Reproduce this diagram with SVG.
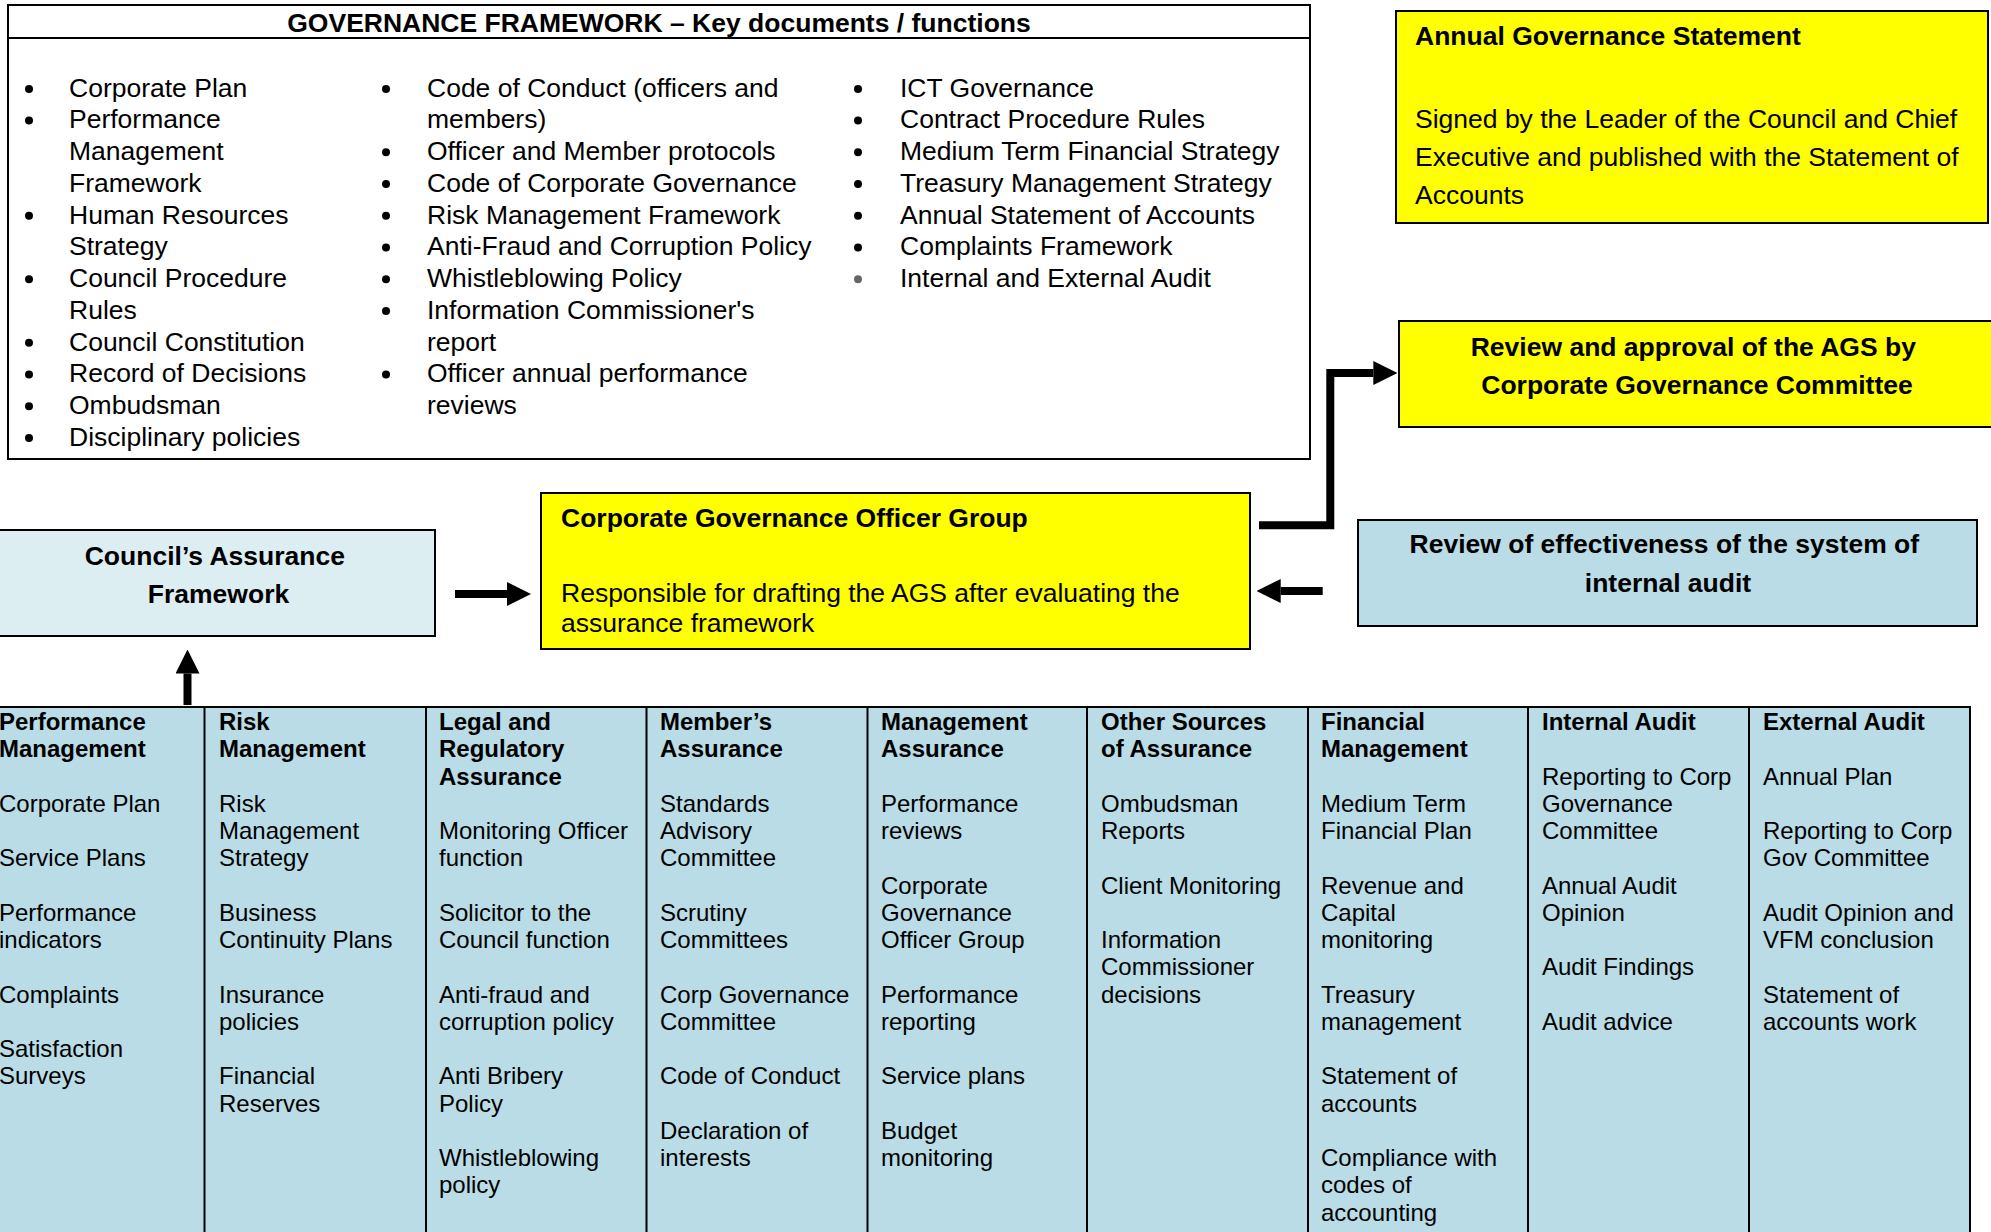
<svg xmlns="http://www.w3.org/2000/svg" width="1991" height="1232" viewBox="0 0 1991 1232">
<style>
text{font-family:"Liberation Sans",Arial,sans-serif;fill:#000}
.r26{font-size:26.5px}
.b26{font-size:26.5px;font-weight:bold}
.r24{font-size:24px}
.b24{font-size:24px;font-weight:bold}
.c{text-anchor:middle}
.box{stroke:#000;stroke-width:2}
.yel{fill:#FFFF00}
.lb{fill:#B9DCE6}
.llb{fill:#DDEEF3}
.sep{stroke:#000;stroke-width:2}
.arrow{stroke:#000;stroke-width:8;fill:none;marker-end:url(#head)}
.dot{fill:#000}
</style>
<defs>
<marker id="head" markerUnits="userSpaceOnUse" markerWidth="24" markerHeight="24" viewBox="0 0 24 24" refX="0" refY="12" orient="auto">
<path d="M0,0 L24,12 L0,24 z" fill="#000"/>
</marker>
</defs>

<g id="governance-framework">
<rect class="box" x="8" y="5" width="1302" height="454" fill="#fff"/>
<line class="sep" x1="8" y1="38" x2="1310" y2="38"/>
<text class="b26 c" x="659" y="32">GOVERNANCE FRAMEWORK – Key documents / functions</text>
<g>
<circle class="dot" cx="29" cy="89" r="4"/>
<circle class="dot" cx="29" cy="120.5" r="4"/>
<circle class="dot" cx="29" cy="215.7" r="4"/>
<circle class="dot" cx="29" cy="279.2" r="4"/>
<circle class="dot" cx="29" cy="342.7" r="4"/>
<circle class="dot" cx="29" cy="374.5" r="4"/>
<circle class="dot" cx="29" cy="406.2" r="4"/>
<circle class="dot" cx="29" cy="438" r="4"/>
<text class="r26">
<tspan x="69" y="96.7">Corporate Plan</tspan>
<tspan x="69" y="128.45">Performance</tspan>
<tspan x="69" y="160.2">Management</tspan>
<tspan x="69" y="191.95">Framework</tspan>
<tspan x="69" y="223.7">Human Resources</tspan>
<tspan x="69" y="255.45">Strategy</tspan>
<tspan x="69" y="287.2">Council Procedure</tspan>
<tspan x="69" y="318.95">Rules</tspan>
<tspan x="69" y="350.7">Council Constitution</tspan>
<tspan x="69" y="382.45">Record of Decisions</tspan>
<tspan x="69" y="414.2">Ombudsman</tspan>
<tspan x="69" y="445.95">Disciplinary policies</tspan>
</text>
</g>
<g>
<circle class="dot" cx="386" cy="89" r="4"/>
<circle class="dot" cx="386" cy="152.2" r="4"/>
<circle class="dot" cx="386" cy="184" r="4"/>
<circle class="dot" cx="386" cy="215.7" r="4"/>
<circle class="dot" cx="386" cy="247.5" r="4"/>
<circle class="dot" cx="386" cy="279.2" r="4"/>
<circle class="dot" cx="386" cy="311" r="4"/>
<circle class="dot" cx="386" cy="374.5" r="4"/>
<text class="r26">
<tspan x="427" y="96.7">Code of Conduct (officers and</tspan>
<tspan x="427" y="128.45">members)</tspan>
<tspan x="427" y="160.2">Officer and Member protocols</tspan>
<tspan x="427" y="191.95">Code of Corporate Governance</tspan>
<tspan x="427" y="223.7">Risk Management Framework</tspan>
<tspan x="427" y="255.45">Anti-Fraud and Corruption Policy</tspan>
<tspan x="427" y="287.2">Whistleblowing Policy</tspan>
<tspan x="427" y="318.95">Information Commissioner's</tspan>
<tspan x="427" y="350.7">report</tspan>
<tspan x="427" y="382.45">Officer annual performance</tspan>
<tspan x="427" y="414.2">reviews</tspan>
</text>
</g>
<g>
<circle class="dot" cx="858" cy="89" r="4"/>
<circle class="dot" cx="858" cy="120.5" r="4"/>
<circle class="dot" cx="858" cy="152.2" r="4"/>
<circle class="dot" cx="858" cy="184" r="4"/>
<circle class="dot" cx="858" cy="215.7" r="4"/>
<circle class="dot" cx="858" cy="247.5" r="4"/>
<circle cx="858" cy="279.2" r="4" fill="#666"/>
<text class="r26">
<tspan x="900" y="96.7">ICT Governance</tspan>
<tspan x="900" y="128.45">Contract Procedure Rules</tspan>
<tspan x="900" y="160.2">Medium Term Financial Strategy</tspan>
<tspan x="900" y="191.95">Treasury Management Strategy</tspan>
<tspan x="900" y="223.7">Annual Statement of Accounts</tspan>
<tspan x="900" y="255.45">Complaints Framework</tspan>
<tspan x="900" y="287.2">Internal and External Audit</tspan>
</text>
</g>
</g>

<g id="annual-governance-statement">
<rect class="box yel" x="1396" y="11" width="592" height="212"/>
<text class="b26" x="1415" y="45">Annual Governance Statement</text>
<text class="r26">
<tspan x="1415" y="128">Signed by the Leader of the Council and Chief</tspan>
<tspan x="1415" y="166">Executive and published with the Statement of</tspan>
<tspan x="1415" y="203.5">Accounts</tspan>
</text>
</g>

<g id="review-approval-ags">
<rect class="box yel" x="1399" y="321" width="600" height="106"/>
<text class="b26 c">
<tspan x="1697" y="356">Review and approval of the AGS by</tspan>
<tspan x="1697" y="394">Corporate Governance Committee</tspan>
</text>
</g>

<g id="councils-assurance-framework">
<rect class="box llb" x="-2" y="530" width="437" height="106"/>
<text class="b26 c">
<tspan x="218.5" y="565">Council’s Assurance</tspan>
<tspan x="218.5" y="603">Framework</tspan>
</text>
</g>

<g id="corporate-governance-officer-group">
<rect class="box yel" x="541" y="493" width="709" height="156"/>
<text class="b26" x="561" y="526.5">Corporate Governance Officer Group</text>
<text class="r26">
<tspan x="561" y="602">Responsible for drafting the AGS after evaluating the</tspan>
<tspan x="561" y="632">assurance framework</tspan>
</text>
</g>

<g id="review-effectiveness-internal-audit">
<rect class="box lb" x="1358" y="520" width="619" height="106"/>
<text class="b26 c">
<tspan x="1668" y="553">Review of effectiveness of the system of</tspan>
<tspan x="1668" y="592">internal audit</tspan>
</text>
</g>

<g id="assurance-sources">
<rect class="box lb" x="-16" y="707" width="1986" height="560"/>
<line class="sep" x1="204.5" y1="707" x2="204.5" y2="1232"/>
<line class="sep" x1="426" y1="707" x2="426" y2="1232"/>
<line class="sep" x1="646.5" y1="707" x2="646.5" y2="1232"/>
<line class="sep" x1="867.5" y1="707" x2="867.5" y2="1232"/>
<line class="sep" x1="1087" y1="707" x2="1087" y2="1232"/>
<line class="sep" x1="1308" y1="707" x2="1308" y2="1232"/>
<line class="sep" x1="1528" y1="707" x2="1528" y2="1232"/>
<line class="sep" x1="1749" y1="707" x2="1749" y2="1232"/>

<g id="col-performance-management">
<text class="b24"><tspan x="-1" y="730">Performance</tspan><tspan x="-1" y="757.25">Management</tspan></text>
<text class="r24">
<tspan x="-1" y="811.75">Corporate Plan</tspan>
<tspan x="-1" y="866.25">Service Plans</tspan>
<tspan x="-1" y="920.75">Performance</tspan>
<tspan x="-1" y="948">indicators</tspan>
<tspan x="-1" y="1002.5">Complaints</tspan>
<tspan x="-1" y="1057">Satisfaction</tspan>
<tspan x="-1" y="1084.25">Surveys</tspan>
</text>
</g>
<g id="col-risk-management">
<text class="b24"><tspan x="219" y="730">Risk</tspan><tspan x="219" y="757.25">Management</tspan></text>
<text class="r24">
<tspan x="219" y="811.75">Risk</tspan>
<tspan x="219" y="839">Management</tspan>
<tspan x="219" y="866.25">Strategy</tspan>
<tspan x="219" y="920.75">Business</tspan>
<tspan x="219" y="948">Continuity Plans</tspan>
<tspan x="219" y="1002.5">Insurance</tspan>
<tspan x="219" y="1029.75">policies</tspan>
<tspan x="219" y="1084.25">Financial</tspan>
<tspan x="219" y="1111.5">Reserves</tspan>
</text>
</g>
<g id="col-legal-regulatory">
<text class="b24"><tspan x="439" y="730">Legal and</tspan><tspan x="439" y="757.25">Regulatory</tspan><tspan x="439" y="784.5">Assurance</tspan></text>
<text class="r24">
<tspan x="439" y="839">Monitoring Officer</tspan>
<tspan x="439" y="866.25">function</tspan>
<tspan x="439" y="920.75">Solicitor to the</tspan>
<tspan x="439" y="948">Council function</tspan>
<tspan x="439" y="1002.5">Anti-fraud and</tspan>
<tspan x="439" y="1029.75">corruption policy</tspan>
<tspan x="439" y="1084.25">Anti Bribery</tspan>
<tspan x="439" y="1111.5">Policy</tspan>
<tspan x="439" y="1166">Whistleblowing</tspan>
<tspan x="439" y="1193.25">policy</tspan>
</text>
</g>
<g id="col-members-assurance">
<text class="b24"><tspan x="660" y="730">Member’s</tspan><tspan x="660" y="757.25">Assurance</tspan></text>
<text class="r24">
<tspan x="660" y="811.75">Standards</tspan>
<tspan x="660" y="839">Advisory</tspan>
<tspan x="660" y="866.25">Committee</tspan>
<tspan x="660" y="920.75">Scrutiny</tspan>
<tspan x="660" y="948">Committees</tspan>
<tspan x="660" y="1002.5">Corp Governance</tspan>
<tspan x="660" y="1029.75">Committee</tspan>
<tspan x="660" y="1084.25">Code of Conduct</tspan>
<tspan x="660" y="1138.75">Declaration of</tspan>
<tspan x="660" y="1166">interests</tspan>
</text>
</g>
<g id="col-management-assurance">
<text class="b24"><tspan x="881" y="730">Management</tspan><tspan x="881" y="757.25">Assurance</tspan></text>
<text class="r24">
<tspan x="881" y="811.75">Performance</tspan>
<tspan x="881" y="839">reviews</tspan>
<tspan x="881" y="893.5">Corporate</tspan>
<tspan x="881" y="920.75">Governance</tspan>
<tspan x="881" y="948">Officer Group</tspan>
<tspan x="881" y="1002.5">Performance</tspan>
<tspan x="881" y="1029.75">reporting</tspan>
<tspan x="881" y="1084.25">Service plans</tspan>
<tspan x="881" y="1138.75">Budget</tspan>
<tspan x="881" y="1166">monitoring</tspan>
</text>
</g>
<g id="col-other-sources">
<text class="b24"><tspan x="1101" y="730">Other Sources</tspan><tspan x="1101" y="757.25">of Assurance</tspan></text>
<text class="r24">
<tspan x="1101" y="811.75">Ombudsman</tspan>
<tspan x="1101" y="839">Reports</tspan>
<tspan x="1101" y="893.5">Client Monitoring</tspan>
<tspan x="1101" y="948">Information</tspan>
<tspan x="1101" y="975.25">Commissioner</tspan>
<tspan x="1101" y="1002.5">decisions</tspan>
</text>
</g>
<g id="col-financial-management">
<text class="b24"><tspan x="1321" y="730">Financial</tspan><tspan x="1321" y="757.25">Management</tspan></text>
<text class="r24">
<tspan x="1321" y="811.75">Medium Term</tspan>
<tspan x="1321" y="839">Financial Plan</tspan>
<tspan x="1321" y="893.5">Revenue and</tspan>
<tspan x="1321" y="920.75">Capital</tspan>
<tspan x="1321" y="948">monitoring</tspan>
<tspan x="1321" y="1002.5">Treasury</tspan>
<tspan x="1321" y="1029.75">management</tspan>
<tspan x="1321" y="1084.25">Statement of</tspan>
<tspan x="1321" y="1111.5">accounts</tspan>
<tspan x="1321" y="1166">Compliance with</tspan>
<tspan x="1321" y="1193.25">codes of</tspan>
<tspan x="1321" y="1220.5">accounting</tspan>
</text>
</g>
<g id="col-internal-audit">
<text class="b24" x="1542" y="730">Internal Audit</text>
<text class="r24">
<tspan x="1542" y="784.5">Reporting to Corp</tspan>
<tspan x="1542" y="811.75">Governance</tspan>
<tspan x="1542" y="839">Committee</tspan>
<tspan x="1542" y="893.5">Annual Audit</tspan>
<tspan x="1542" y="920.75">Opinion</tspan>
<tspan x="1542" y="975.25">Audit Findings</tspan>
<tspan x="1542" y="1029.75">Audit advice</tspan>
</text>
</g>
<g id="col-external-audit">
<text class="b24" x="1763" y="730">External Audit</text>
<text class="r24">
<tspan x="1763" y="784.5">Annual Plan</tspan>
<tspan x="1763" y="839">Reporting to Corp</tspan>
<tspan x="1763" y="866.25">Gov Committee</tspan>
<tspan x="1763" y="920.75">Audit Opinion and</tspan>
<tspan x="1763" y="948">VFM conclusion</tspan>
<tspan x="1763" y="1002.5">Statement of</tspan>
<tspan x="1763" y="1029.75">accounts work</tspan>
</text>
</g>
</g>

<g id="connectors">
<line class="arrow" x1="455" y1="594" x2="507" y2="594"/>
<line class="arrow" x1="187.5" y1="705" x2="187.5" y2="673.5"/>
<line class="arrow" x1="1322.7" y1="591" x2="1280.7" y2="591"/>
<path class="arrow" d="M1259,525.3 H1330.3 V373 H1373.3" stroke-width="7.5" stroke-linejoin="miter"/>
</g>
</svg>
